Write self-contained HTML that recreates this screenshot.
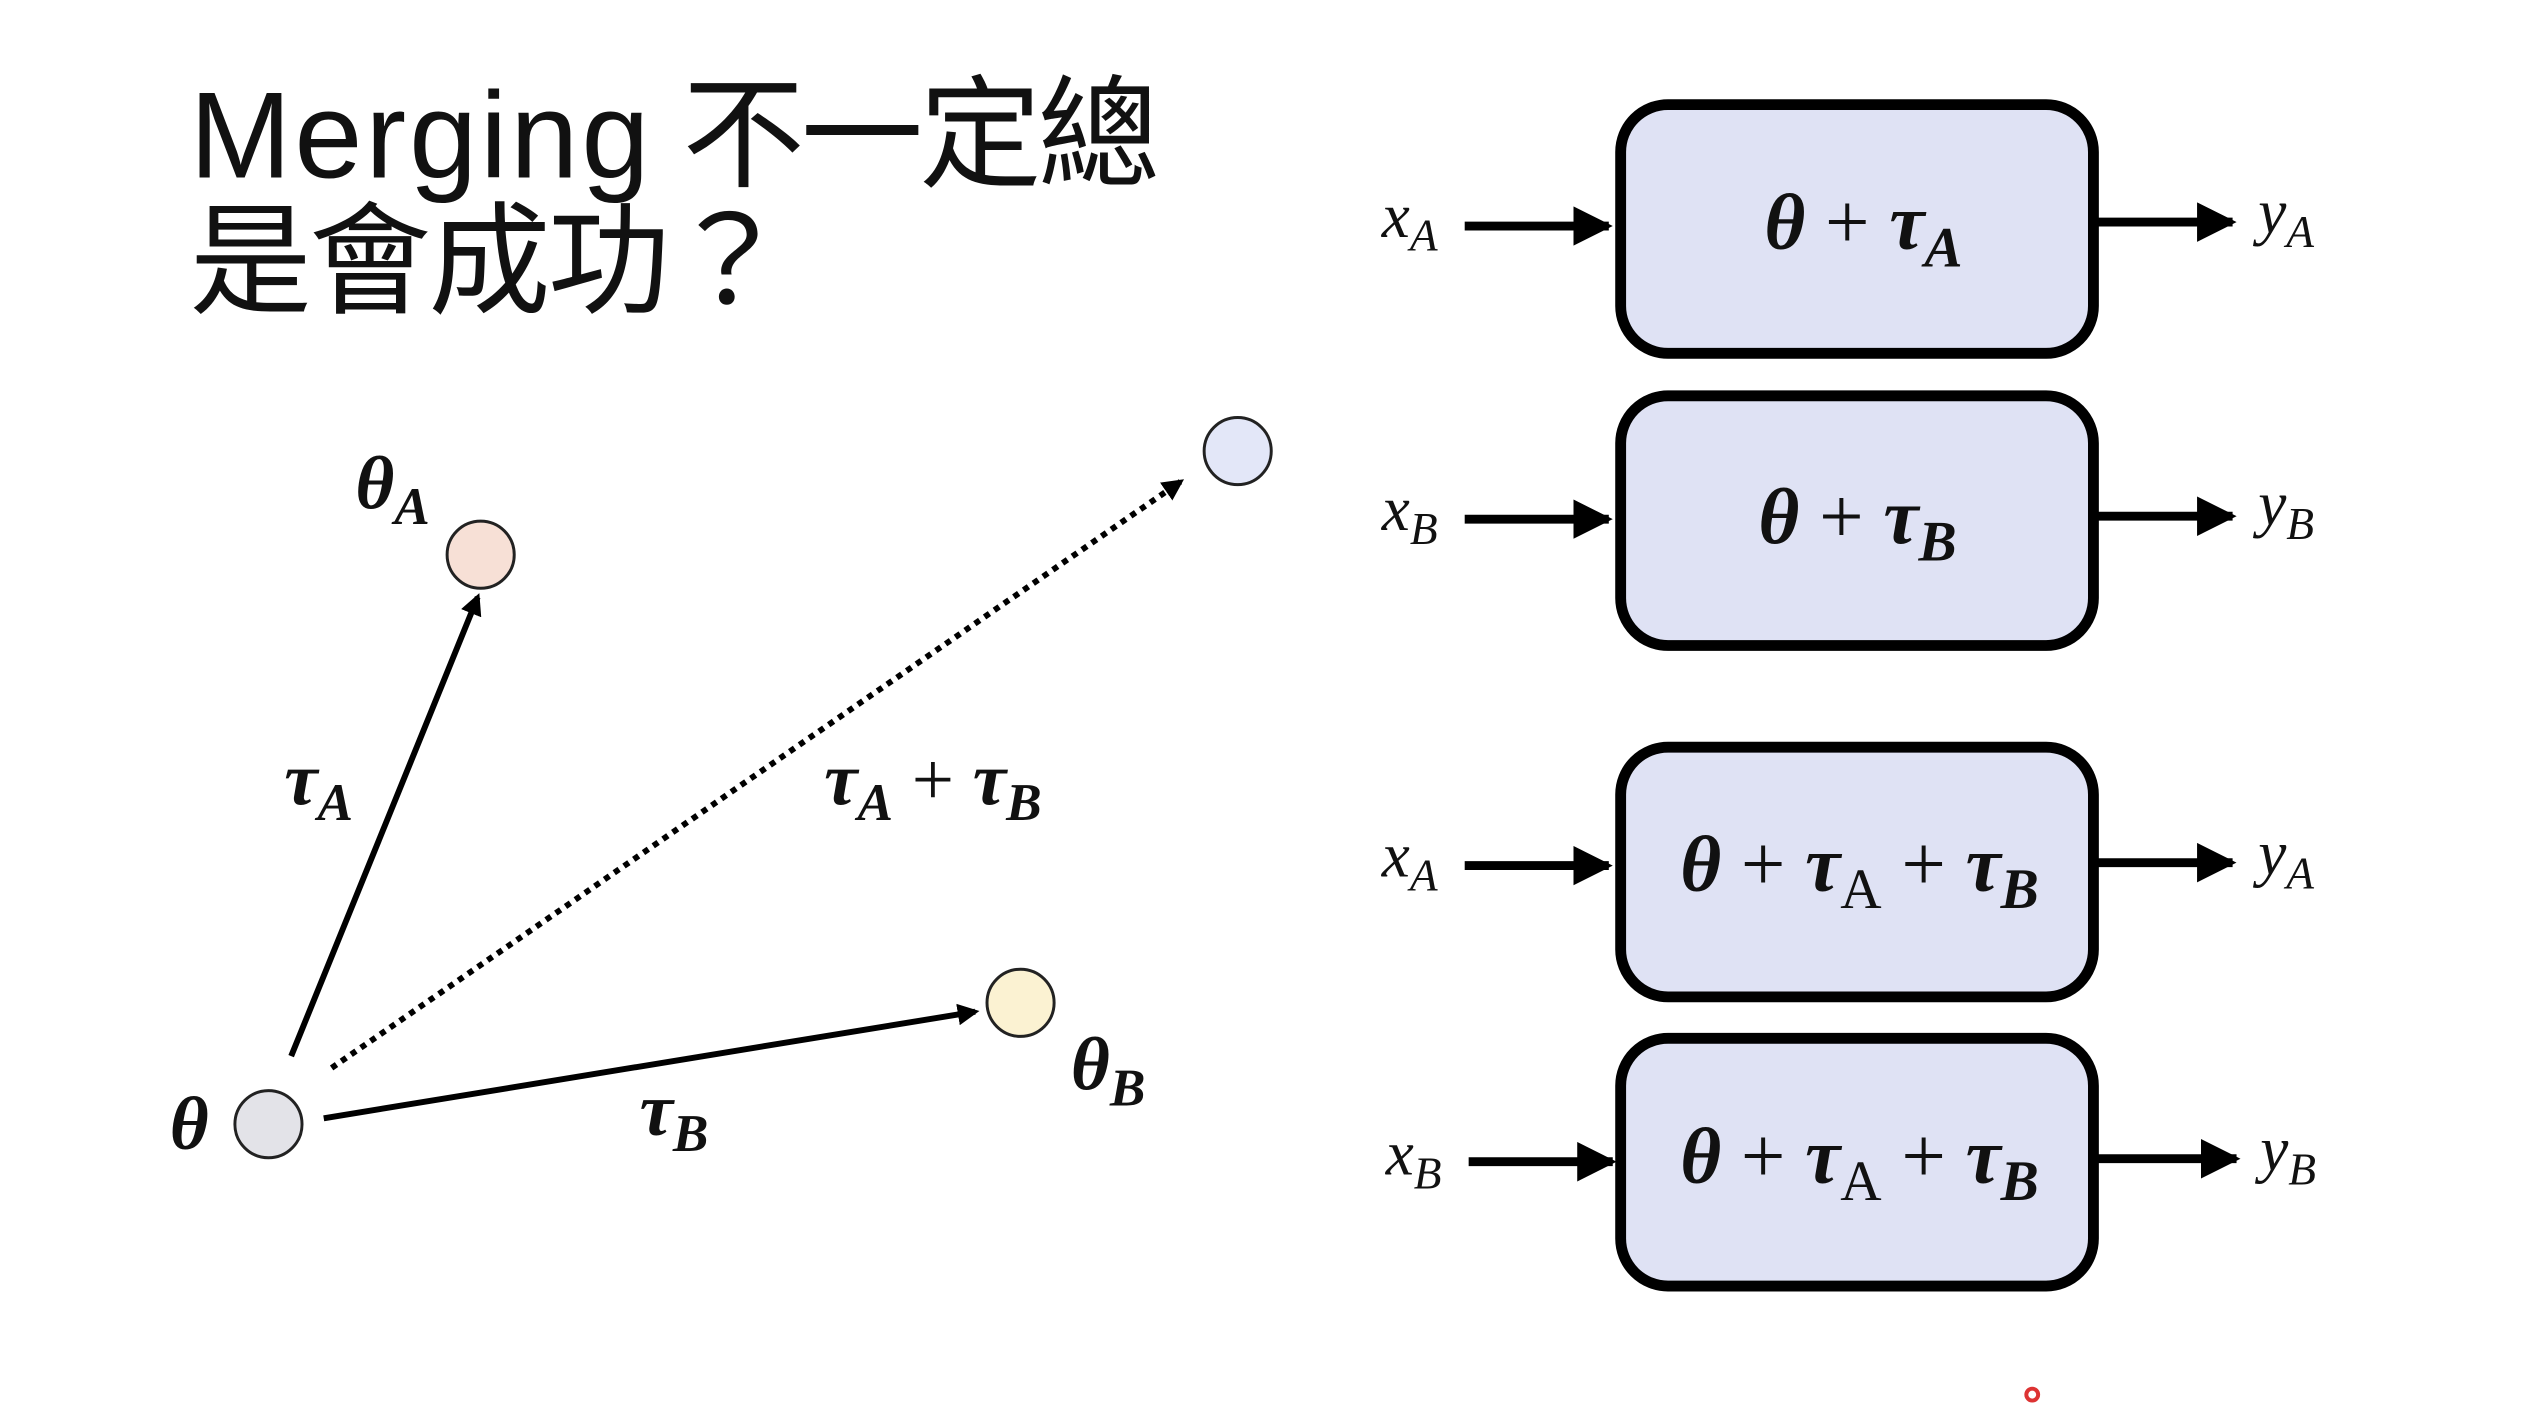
<!DOCTYPE html>
<html><head><meta charset="utf-8"><style>
html,body{margin:0;padding:0;background:#fff;}
svg{display:block;}
.m{font-family:"Liberation Serif",serif;font-weight:bold;font-style:italic;fill:#111;}
.v{font-family:"Liberation Serif",serif;font-style:italic;fill:#111;}
</style></head><body>
<svg width="2536" height="1412" viewBox="0 0 2536 1412" xmlns="http://www.w3.org/2000/svg">
<defs>
<marker id="ah2" markerWidth="22" markerHeight="22" refX="8" refY="5" orient="auto" markerUnits="userSpaceOnUse" viewBox="0 0 10 10">
<path d="M0,0 L10,5 L0,10 z" fill="#000"/></marker>
<marker id="bh" markerWidth="40" markerHeight="40" refX="9" refY="5" orient="auto" markerUnits="userSpaceOnUse" viewBox="0 0 10 10">
<path d="M0,0 L10,5 L0,10 z" fill="#000"/></marker>
</defs>
<g transform="scale(0.987)">
<text x="192" y="180" font-family="'Liberation Sans','Noto Sans CJK TC',sans-serif" font-size="124" fill="#111"><tspan letter-spacing="3">Merging</tspan><tspan letter-spacing="-4"> 不一定總</tspan></text>
<text x="192" y="308" font-family="'Liberation Sans','Noto Sans CJK TC',sans-serif" font-size="124" fill="#111" letter-spacing="-3">是會成功？</text>

<line x1="295" y1="1070" x2="484" y2="605" stroke="#000" stroke-width="6" marker-end="url(#ah2)"/>
<line x1="336" y1="1082" x2="1196" y2="488" stroke="#000" stroke-width="6" stroke-dasharray="6,6" marker-end="url(#ah2)"/>
<line x1="328" y1="1133" x2="988" y2="1025" stroke="#000" stroke-width="6" marker-end="url(#ah2)"/>

<circle cx="272" cy="1139" r="34" fill="#e3e3e8" stroke="#222" stroke-width="3"/>
<circle cx="487" cy="562" r="34" fill="#f7e0d6" stroke="#222" stroke-width="3"/>
<circle cx="1254" cy="457" r="34" fill="#e3e7f8" stroke="#222" stroke-width="3"/>
<circle cx="1034" cy="1016" r="34" fill="#fbf2d2" stroke="#222" stroke-width="3"/>

<text class="m" x="360" y="515" font-size="76">θ<tspan font-size="54" dy="16">A</tspan></text>
<text class="m" x="172" y="1164" font-size="76">θ</text>
<text class="m" x="288" y="815" font-size="76">τ<tspan font-size="54" dy="16">A</tspan></text>
<text class="m" x="835" y="815" font-size="76">τ<tspan font-size="54" dy="16">A</tspan><tspan dy="-16" font-style="normal" font-weight="normal">  +  </tspan>τ<tspan font-size="54" dy="16">B</tspan></text>
<text class="m" x="1085" y="1104" font-size="76">θ<tspan font-size="54" dy="16">B</tspan></text>
<text class="m" x="648" y="1150" font-size="76">τ<tspan font-size="54" dy="16">B</tspan></text>

<g fill="#dfe2f4" stroke="#000" stroke-width="11">
<rect x="1642" y="106" width="479" height="252" rx="48"/>
<rect x="1642" y="401" width="479" height="253" rx="48"/>
<rect x="1642" y="757" width="479" height="253" rx="48"/>
<rect x="1642" y="1052" width="479" height="251" rx="48"/>
</g>
<g stroke="#000" stroke-width="9">
<line x1="1484" y1="229" x2="1630" y2="229" marker-end="url(#bh)"/>
<line x1="1484" y1="526" x2="1630" y2="526" marker-end="url(#bh)"/>
<line x1="1484" y1="877" x2="1630" y2="877" marker-end="url(#bh)"/>
<line x1="1488" y1="1177" x2="1634" y2="1177" marker-end="url(#bh)"/>
<line x1="2126" y1="225" x2="2262" y2="225" marker-end="url(#bh)"/>
<line x1="2126" y1="523" x2="2262" y2="523" marker-end="url(#bh)"/>
<line x1="2126" y1="874" x2="2262" y2="874" marker-end="url(#bh)"/>
<line x1="2126" y1="1174" x2="2266" y2="1174" marker-end="url(#bh)"/>
</g>
<g class="v" font-size="64">
<text x="1400" y="240">x<tspan font-size="46" dy="14">A</tspan></text>
<text x="1400" y="537">x<tspan font-size="46" dy="14">B</tspan></text>
<text x="1400" y="888">x<tspan font-size="46" dy="14">A</tspan></text>
<text x="1404" y="1190">x<tspan font-size="46" dy="14">B</tspan></text>
<text x="2288" y="236">y<tspan font-size="46" dy="14">A</tspan></text>
<text x="2288" y="532">y<tspan font-size="46" dy="14">B</tspan></text>
<text x="2288" y="886">y<tspan font-size="46" dy="14">A</tspan></text>
<text x="2290" y="1186">y<tspan font-size="46" dy="14">B</tspan></text>
</g>
<g class="m" font-size="80" text-anchor="middle">
<text x="1888" y="252">θ <tspan font-style="normal" font-weight="normal">+</tspan> τ<tspan font-size="58" dy="18">A</tspan></text>
<text x="1882" y="550">θ <tspan font-style="normal" font-weight="normal">+</tspan> τ<tspan font-size="58" dy="18">B</tspan></text>
<text x="1884" y="902">θ <tspan font-style="normal" font-weight="normal">+</tspan> τ<tspan font-size="58" dy="18" font-style="normal" font-weight="normal">A</tspan><tspan dy="-18" font-style="normal" font-weight="normal"> + </tspan>τ<tspan font-size="58" dy="18">B</tspan></text>
<text x="1884" y="1198">θ <tspan font-style="normal" font-weight="normal">+</tspan> τ<tspan font-size="58" dy="18" font-style="normal" font-weight="normal">A</tspan><tspan dy="-18" font-style="normal" font-weight="normal"> + </tspan>τ<tspan font-size="58" dy="18">B</tspan></text>
</g>
<circle cx="2059" cy="1413" r="6" fill="none" stroke="#d33" stroke-width="4"/>
</g>
</svg>
</body></html>
